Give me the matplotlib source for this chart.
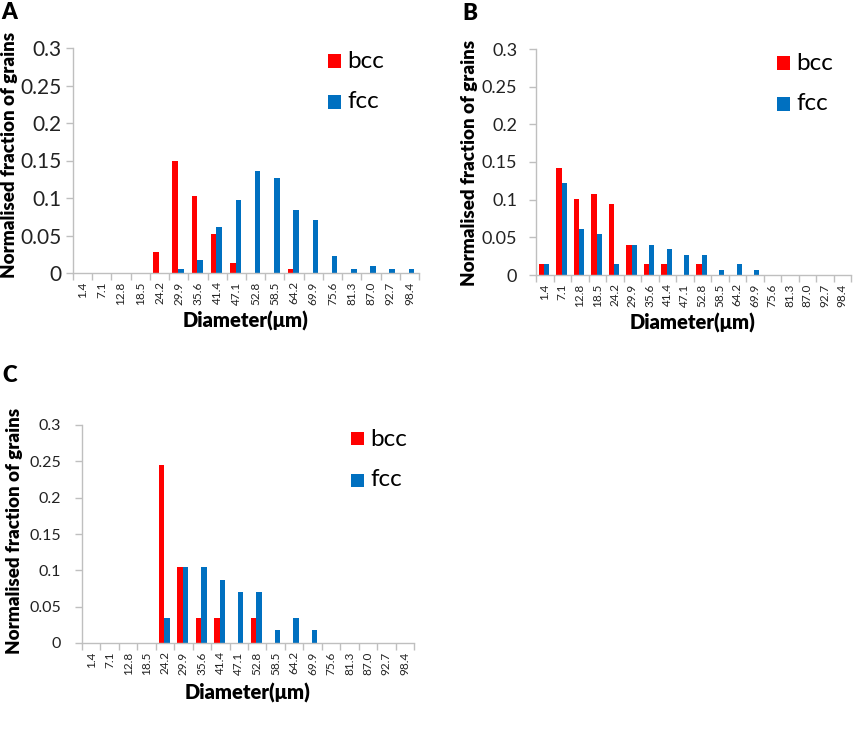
import matplotlib
matplotlib.use("Agg")
import matplotlib.pyplot as plt
import numpy as np
from matplotlib.patches import Rectangle

plt.rcParams['font.family'] = ['Lato', 'DejaVu Sans']

diameters = ["1.4", "7.1", "12.8", "18.5", "24.2", "29.9", "35.6", "41.4", "47.1",
             "52.8", "58.5", "64.2", "69.9", "75.6", "81.3", "87.0", "92.7", "98.4"]

a_bcc = [0, 0, 0, 0, 0.028, 0.150, 0.103, 0.052, 0.014, 0, 0, 0.005, 0, 0, 0, 0, 0, 0]
a_fcc = [0, 0, 0, 0, 0, 0.005, 0.018, 0.061, 0.098, 0.136, 0.127, 0.084, 0.071, 0.023, 0.005, 0.009, 0.005, 0.005]

b_bcc = [0.014, 0.142, 0.101, 0.108, 0.094, 0.040, 0.014, 0.014, 0, 0.014, 0, 0, 0, 0, 0, 0, 0, 0]
b_fcc = [0.014, 0.122, 0.061, 0.054, 0.014, 0.040, 0.040, 0.034, 0.027, 0.027, 0.007, 0.014, 0.007, 0, 0, 0, 0, 0]

c_bcc = [0, 0, 0, 0, 0.245, 0.105, 0.035, 0.035, 0, 0.035, 0, 0, 0, 0, 0, 0, 0, 0]
c_fcc = [0, 0, 0, 0, 0.035, 0.105, 0.105, 0.087, 0.070, 0.070, 0.0175, 0.035, 0.0175, 0, 0, 0, 0, 0]

yticks = [0, 0.05, 0.1, 0.15, 0.2, 0.25, 0.3]
ytick_labels = ["0", "0.05", "0.1", "0.15", "0.2", "0.25", "0.3"]

RED = "#FF0000"
BLUE = "#0070C0"
GRAY = "#BFBFBF"

W, H = 858, 741
fig = plt.figure(figsize=(W / 100, H / 100), dpi=100)


def px_axes(l, t, r, b):
    return fig.add_axes([l / W, 1 - b / H, (r - l) / W, (b - t) / H])


def draw_panel(ax, bcc, fcc, label, lab_xy, ylab_x, xlab_y, leg_xy, yfs, ypad):
    n = len(diameters)
    x = np.arange(n)
    w = 0.29
    ax.bar(x - w / 2 - 0.04, bcc, width=w, color=RED, linewidth=0)
    ax.bar(x + w / 2 - 0.04, fcc, width=w, color=BLUE, linewidth=0)
    ax.set_xlim(-0.5, n - 0.5)
    ax.set_ylim(0, 0.3)
    ax.set_yticks(yticks)
    ax.set_yticklabels(ytick_labels, fontsize=yfs, color="#222222")
    ax.set_xticks(x)
    ax.set_xticklabels(diameters, rotation=90, fontsize=8.5, color="#222222")
    ax.set_xticks(np.arange(n + 1) - 0.5, minor=True)
    ax.tick_params(axis='x', which='major', length=0, pad=6)
    ax.tick_params(axis='x', which='minor', length=5, color=GRAY, width=1, direction='out')
    ax.tick_params(axis='y', length=5, color=GRAY, width=1, direction='out', pad=ypad)
    for s in ['top', 'right']:
        ax.spines[s].set_visible(False)
    for s in ['left', 'bottom']:
        ax.spines[s].set_color(GRAY)
        ax.spines[s].set_linewidth(1)
    ax.set_facecolor('none')
    fig.text(ylab_x[0] / W, 1 - ylab_x[1] / H, "Normalised fraction of grains",
             rotation=90, ha='center', va='center', fontsize=13.5, fontweight='heavy')
    fig.text(xlab_y[0] / W, 1 - xlab_y[1] / H, "Diameter(μm)",
             ha='center', va='center', fontsize=14.5, fontweight='heavy')
    fig.text(lab_xy[0] / W, 1 - lab_xy[1] / H, label,
             ha='left', va='top', fontsize=16, fontweight='heavy')
    lx, ly = leg_xy
    for i, (name, col) in enumerate([("bcc", RED), ("fcc", BLUE)]):
        yy = ly + i * 41
        fig.patches.append(Rectangle((lx / W, 1 - (yy + 6.5) / H), 13 / W, 13 / H,
                                     transform=fig.transFigure, color=col, linewidth=0))
        fig.text((lx + 19) / W, 1 - yy / H, name, ha='left', va='center', fontsize=17.5)


axA = px_axes(73, 48, 419, 273)
draw_panel(axA, a_bcc, a_fcc, "A", (1, 2), (10, 155), (246, 321), (328, 61), 15, 3.5)

axB = px_axes(536, 49, 851, 275)
draw_panel(axB, b_bcc, b_fcc, "B", (462, 3), (469, 163), (693, 323), (777, 63), 13, 8.5)

axC = px_axes(82, 425, 414, 643)
draw_panel(axC, c_bcc, c_fcc, "C", (2, 365), (15, 531), (248, 693), (351, 439), 11.5, 10)

fig.savefig("out.png", dpi=100)
